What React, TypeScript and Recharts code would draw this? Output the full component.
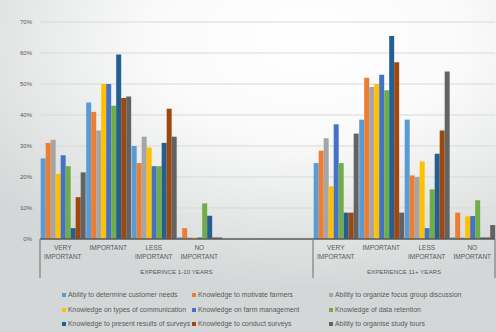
import React from "react";
import { BarChart, Bar, XAxis, YAxis, CartesianGrid } from "recharts";

const categoryKeys = ["c1", "c2", "c3", "c4", "c5", "c6", "c7", "c8", "c9", "c10"];
const tickLines: string[][] = [
  ["VERY", "IMPORTANT"],
  ["IMPORTANT"],
  ["LESS", "IMPORTANT"],
  ["NO", "IMPORTANT"],
  [],
  [],
  ["VERY", "IMPORTANT"],
  ["IMPORTANT"],
  ["LESS", "IMPORTANT"],
  ["NO", "IMPORTANT"],
];
const groupOf = ["g1", "g1", "g1", "g1", "g1", "g1", "g2", "g2", "g2", "g2"];
const groupLabels: Record<string, string> = {
  g1: "EXPERINCE 1-10 YEARS",
  g2: "EXPERIENCE 11+ YEARS",
};

const seriesNames = [
  "Ability to determine customer needs",
  "Knowledge to motivate farmers",
  "Ability to organize focus group discussion",
  "Knowledge on types of communication",
  "Knowledge on farm management",
  "Knowledge of data retention",
  "Knowledge to present results of surveys",
  "Knowledge to conduct surveys",
  "Ability to organise study tours",
];
const seriesColors = [
  "#5B9BD5",
  "#ED7D31",
  "#A5A5A5",
  "#FFC000",
  "#4472C4",
  "#70AD47",
  "#255E91",
  "#9E480E",
  "#636363",
];

const s1 = [26, 44, 30, 0.5, null, null, 24.5, 38.5, 38.5, 0.5];
const s2 = [31, 41, 24.5, 3.5, null, null, 28.5, 52, 20.5, 8.5];
const s3 = [32, 35, 33, 0.5, null, null, 32.5, 49, 20, 0.5];
const s4 = [21, 50, 29.5, 0.5, null, null, 17, 50, 25, 7.3];
const s5 = [27, 50, 23.5, 0.5, null, null, 37, 53, 3.5, 7.4];
const s6 = [23.5, 43, 23.5, 11.5, null, null, 24.5, 48, 16, 12.5];
const s7 = [3.5, 59.5, 31, 7.5, null, null, 8.5, 65.5, 27.5, 0.5];
const s8 = [13.5, 45.5, 42, 0.5, null, null, 8.5, 57, 35, 0.5];
const s9 = [21.5, 46, 33, 0.5, null, null, 34, 8.5, 54, 4.5];
const seriesValues = [s1, s2, s3, s4, s5, s6, s7, s8, s9];

const yTicks = [0, 10, 20, 30, 40, 50, 60, 70];

const data = categoryKeys.map((k, i) => {
  const row: Record<string, any> = { key: k };
  seriesValues.forEach((vals, j) => {
    row["s" + j] = vals[i];
  });
  return row;
});

const FONT = "'Liberation Sans', Arial, sans-serif";

const CatTick = (props: any) => {
  const { x, y, payload, width, visibleTicksCount } = props;
  const i = payload.index;
  const bw = width && visibleTicksCount ? width / visibleTicksCount : 0;
  const lines = tickLines[i] || [];
  const els: React.ReactNode[] = [];
  lines.forEach((ln, li) => {
    els.push(
      <text
        key={"l" + li}
        x={x}
        y={y + 10.5 + li * 9}
        textAnchor="middle"
        fontSize={6.5}
        fill="#595959"
        fontFamily={FONT}
      >
        {ln}
      </text>
    );
  });
  if (bw) {
    const g = groupOf[i];
    if (i === 0 || groupOf[i - 1] !== g) {
      const count = groupOf.filter((v) => v === g).length;
      const left = x - bw / 2;
      els.push(
        <line key="div" x1={left} x2={left} y1={y} y2={y + 39} stroke="#7f7f7f" strokeWidth={1.2} />
      );
      els.push(
        <text
          key="grp"
          x={left + (count * bw) / 2}
          y={y + 35}
          textAnchor="middle"
          fontSize={6.2}
          fill="#595959"
          fontFamily={FONT}
        >
          {groupLabels[g]}
        </text>
      );
    }
    if (i === groupOf.length - 1) {
      const right = x + bw / 2;
      els.push(
        <line key="rdiv" x1={right} x2={right} y1={y} y2={y + 39} stroke="#7f7f7f" strokeWidth={1.2} />
      );
    }
  }
  return <g>{els}</g>;
};

export default function App() {
  const legendCols = [62, 192, 329];
  const legendRows = [295, 310, 324];
  return (
    <div
      style={{
        position: "absolute",
        left: 0,
        top: 0,
        width: 496,
        height: 332,
        background:
          "radial-gradient(ellipse 80% 75% at 62% 12%, #ffffff 0%, #fafafa 40%, #e4e6e6 75%, #d4d7d7 100%)",
        overflow: "hidden",
      }}
    >
      <BarChart
        width={496}
        height={332}
        data={data}
        margin={{ top: 22, right: 1, bottom: 53, left: 0 }}
        barCategoryGap="1.5%"
        barGap={0}
      >
        <CartesianGrid vertical={false} stroke="#d9d9d9" />
        <XAxis
          dataKey="key"
          height={40}
          tickLine={false}
          tickSize={0}
          tickMargin={0}
          interval={0}
          axisLine={{ stroke: "#595959", strokeWidth: 1.5 }}
          tick={<CatTick />}
        />
        <YAxis
          width={40}
          domain={[0, 70]}
          ticks={yTicks}
          tickFormatter={(v: number) => `${v}%`}
          axisLine={false}
          tickLine={false}
          tick={{ fontSize: 6, fill: "#595959", fontFamily: FONT }}
        />
        {seriesNames.map((n, j) => (
          <Bar
            key={n}
            dataKey={"s" + j}
            name={n}
            fill={seriesColors[j]}
            isAnimationActive={false}
          />
        ))}
      </BarChart>
      {seriesNames.map((n, j) => {
        const col = j % 3;
        const row = Math.floor(j / 3);
        return (
          <div
            key={n}
            style={{
              position: "absolute",
              left: legendCols[col],
              top: legendRows[row] - 4,
              display: "flex",
              alignItems: "center",
              fontFamily: FONT,
              fontSize: 6.9,
              color: "#595959",
              whiteSpace: "nowrap",
              lineHeight: "8px",
            }}
          >
            <span
              style={{
                display: "inline-block",
                width: 4,
                height: 4,
                background: seriesColors[j],
                marginRight: 2,
              }}
            />
            {n}
          </div>
        );
      })}
    </div>
  );
}
